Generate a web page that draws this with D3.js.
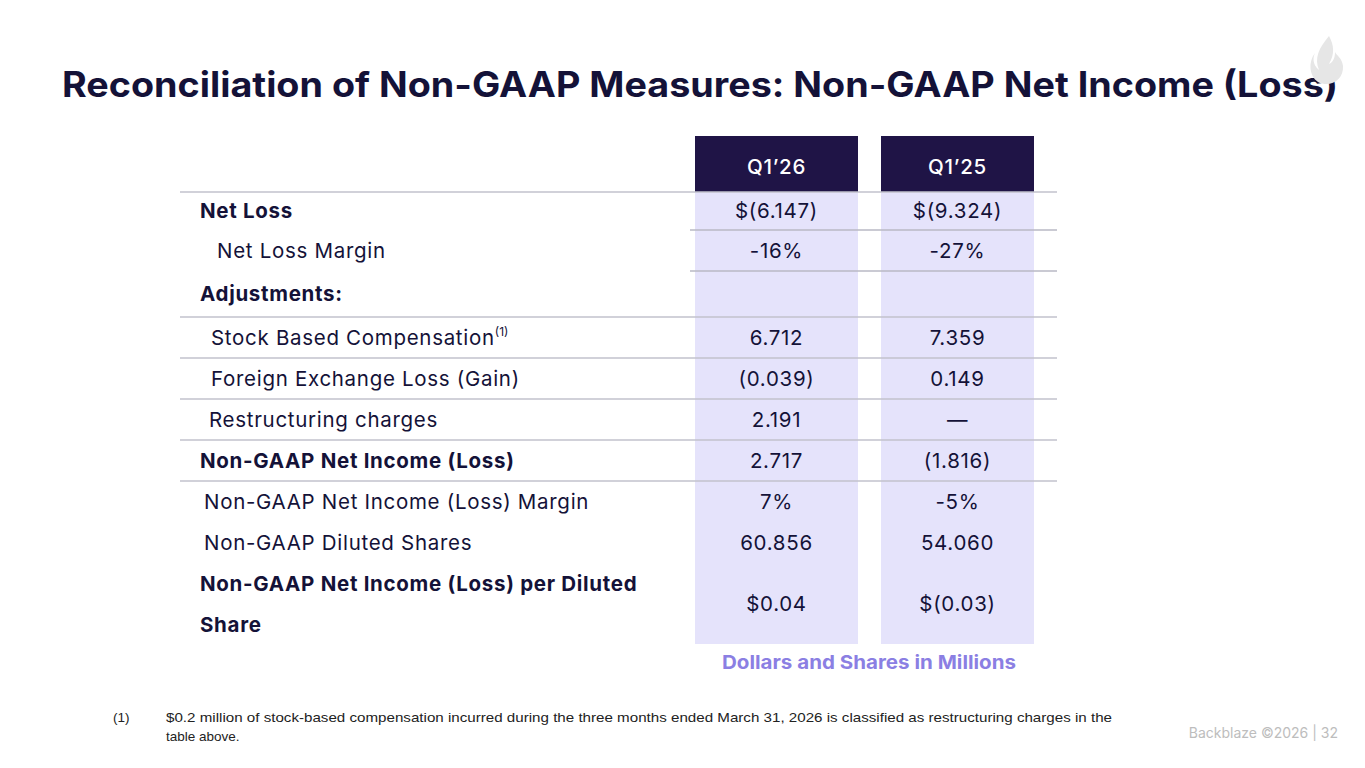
<!DOCTYPE html>
<html lang="en">
<head>
<meta charset="UTF-8">
<title>Non-GAAP Net Income</title>
<script src="https://cdn.jsdelivr.net/npm/d3@7"></script>
<style>
  body { margin: 0; background: #fff; }
  svg { display: block; }
</style>
</head>
<body>
<svg id="chart" width="1365" height="768"></svg>
<script>
// data
var columns = ["Q1\u201926", "Q1\u201925"];
var rowLabels = ["Net Loss", "Net Loss Margin", "Adjustments:", "Stock Based Compensation",
  "Foreign Exchange Loss (Gain)", "Restructuring charges", "Non-GAAP Net Income (Loss)",
  "Non-GAAP Net Income (Loss) Margin", "Non-GAAP Diluted Shares",
  "Non-GAAP Net Income (Loss) per Diluted|Share"];
var q126 = ["$(6.147)", "-16%", "", "6.712", "(0.039)", "2.191", "2.717", "7%", "60.856", "$0.04"];
var q125 = ["$(9.324)", "-27%", "", "7.359", "0.149", "\u2014", "(1.816)", "-5%", "54.060", "$(0.03)"];
var boldRows = [0, 2, 6, 9];
var indent = [0, 17, 0, 11, 11, 9, 0, 4, 4, 0];

var svg = d3.select("#chart");
var font = "Inter, 'Noto Sans', sans-serif";
var navy = "#141238";
var fs = 20.5, ls = 0.7;

svg.append("text").attr("x", 62).attr("y", 97)
  .attr("font-family", font).attr("font-weight", 700).attr("font-size", 35)
  .attr("fill", navy).attr("textLength", 1276).attr("lengthAdjust", "spacingAndGlyphs")
  .text("Reconciliation of Non-GAAP Measures: Non-GAAP Net Income (Loss)");

// flame
svg.append("path")
  .attr("d", "M1329,36 C1319,48 1314,58 1319,70 C1312,64 1313,57 1315,53 C1308,62 1309,76 1318,82 C1330,88 1344,80 1343,66 C1342,58 1337,56 1335,52 C1335,58 1333,62 1329,64 C1335,54 1334,45 1329,36 Z")
  .attr("fill", "#e6e6e6");

// row bands
var rowEdges = [192, 230, 271, 317, 358, 399, 440, 481, 522, 563, 644];
var y = d3.scaleOrdinal().domain(d3.range(rowLabels.length))
  .range(d3.range(rowLabels.length).map(function (i) { return (rowEdges[i] + rowEdges[i + 1]) / 2; }));

var colX = d3.scaleOrdinal().domain(columns).range([695, 881]);
var colW = d3.scaleOrdinal().domain(columns).range([163, 153]);

columns.forEach(function (c) {
  svg.append("rect").attr("x", colX(c)).attr("y", 192).attr("width", colW(c)).attr("height", 644 - 192)
    .attr("fill", "#e5e3fb");
  svg.append("rect").attr("x", colX(c)).attr("y", 136).attr("width", colW(c)).attr("height", 56)
    .attr("fill", "#1f1446");
  svg.append("text").attr("x", colX(c) + colW(c) / 2).attr("y", 174).attr("text-anchor", "middle")
    .attr("font-family", font).attr("font-weight", 500).attr("font-size", fs).attr("letter-spacing", ls)
    .attr("fill", "#fff").text(c);
});

// separators
[192, 317, 358, 399, 440, 481].forEach(function (v) {
  svg.append("line").attr("x1", 180).attr("x2", 1057).attr("y1", v).attr("y2", v)
    .attr("stroke", "#c2c2cc").attr("stroke-width", 1.5);
});
[230, 271].forEach(function (v) {
  svg.append("line").attr("x1", 690).attr("x2", 1057).attr("y1", v).attr("y2", v)
    .attr("stroke", "#b8b8c4").attr("stroke-width", 1.5);
});

// labels
rowLabels.forEach(function (lab, i) {
  var t = svg.append("text").attr("font-family", font).attr("font-size", fs).attr("letter-spacing", ls)
    .attr("font-weight", boldRows.indexOf(i) >= 0 ? 700 : 400).attr("fill", navy)
    .attr("x", 200 + indent[i]);
  var parts = lab.split("|");
  if (parts.length > 1) {
    t.attr("y", 591);
    t.append("tspan").attr("x", 200).attr("y", 591).text(parts[0]);
    t.append("tspan").attr("x", 200).attr("y", 632).text(parts[1]);
  } else {
    t.attr("y", y(i) + 7).text(lab);
  }
  if (i === 3) {
    t.append("tspan").attr("font-size", 12).attr("dy", -9).attr("letter-spacing", 0).text("(1)");
  }
});

[q126, q125].forEach(function (vals, k) {
  var c = columns[k];
  vals.forEach(function (v, i) {
    svg.append("text").attr("x", colX(c) + colW(c) / 2).attr("y", (i === 9 ? 604 : y(i)) + 7)
      .attr("text-anchor", "middle").attr("font-family", font).attr("font-size", fs).attr("letter-spacing", ls)
      .attr("fill", navy).text(v);
  });
});

svg.append("text").attr("x", 869).attr("y", 669).attr("text-anchor", "middle")
  .attr("font-family", font).attr("font-weight", 700).attr("font-size", 19).attr("fill", "#8b7fe3")
  .attr("textLength", 294).attr("lengthAdjust", "spacingAndGlyphs")
  .text("Dollars and Shares in Millions");

// footnote
var fn = svg.append("g").attr("font-family", "Arial, 'Liberation Sans', sans-serif").attr("font-size", 13.5).attr("fill", "#222");
fn.append("text").attr("x", 113).attr("y", 722).text("(1)");
fn.append("text").attr("x", 166).attr("y", 722).attr("textLength", 946).attr("lengthAdjust", "spacingAndGlyphs")
  .text("$0.2 million of stock-based compensation incurred during the three months ended March 31, 2026 is classified as restructuring charges in the");
fn.append("text").attr("x", 166).attr("y", 741).text("table above.");

svg.append("text").attr("x", 1338).attr("y", 738).attr("text-anchor", "end")
  .attr("font-family", font).attr("font-size", 14).attr("fill", "#bdbdbd")
  .text("Backblaze \u00a92026 |  32");
</script>
</body>
</html>
